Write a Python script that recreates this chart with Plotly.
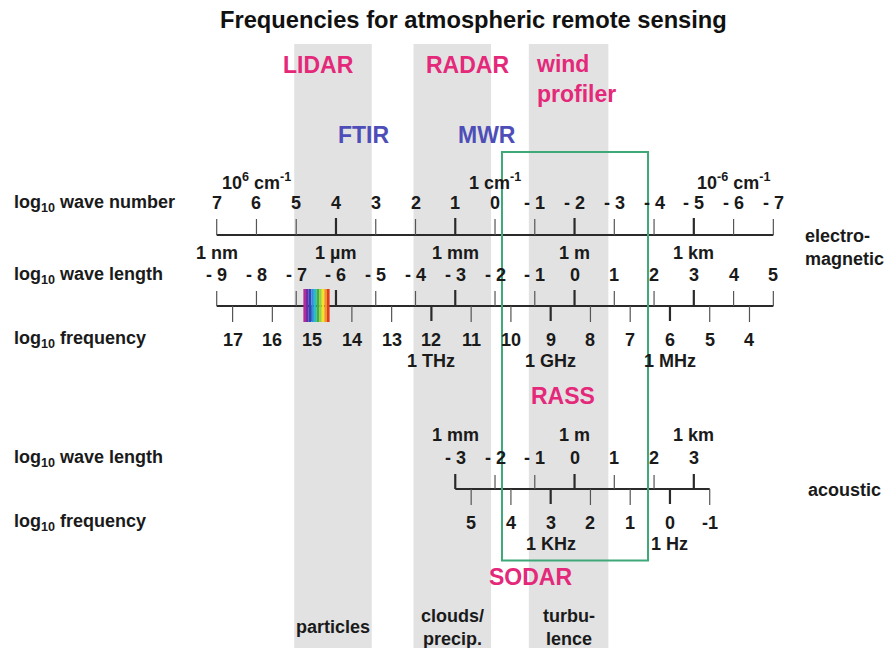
import plotly.graph_objects as go

# ---------------- data ----------------
# electromagnetic scales
wavenumber_values = [7, 6, 5, 4, 3, 2, 1, 0, -1, -2, -3, -4, -5, -6, -7]
wavenumber_labels = ["7", "6", "5", "4", "3", "2", "1", "0", "- 1", "- 2", "- 3", "- 4", "- 5", "- 6", "- 7"]
wavenumber_major = [4, 1, -2, -5]
wavenumber_units = [6, 0, -6]
wavenumber_unit_labels = ["10<sup>6</sup> cm<sup>-1</sup>", "1 cm<sup>-1</sup>", "10<sup>-6</sup> cm<sup>-1</sup>"]

em_wavelength_values = [-9, -8, -7, -6, -5, -4, -3, -2, -1, 0, 1, 2, 3, 4, 5]
em_wavelength_labels = ["- 9", "- 8", "- 7", "- 6", "- 5", "- 4", "- 3", "- 2", "- 1", "0", "1", "2", "3", "4", "5"]
em_wavelength_major = [-6, -3, 0, 3]
em_wavelength_units = [-9, -6, -3, 0, 3]
em_wavelength_unit_labels = ["1 nm", "1 µm", "1 mm", "1 m", "1 km"]

em_frequency_values = [17, 16, 15, 14, 13, 12, 11, 10, 9, 8, 7, 6, 5, 4]
em_frequency_labels = ["17", "16", "15", "14", "13", "12", "11", "10", "9", "8", "7", "6", "5", "4"]
em_frequency_major = [15, 12, 9, 6]
em_frequency_units = [12, 9, 6]
em_frequency_unit_labels = ["1 THz", "1 GHz", "1 MHz"]

# acoustic scales
ac_wavelength_values = [-3, -2, -1, 0, 1, 2, 3]
ac_wavelength_labels = ["- 3", "- 2", "- 1", "0", "1", "2", "3"]
ac_wavelength_major = [-3, 0, 3]
ac_wavelength_units = [-3, 0, 3]
ac_wavelength_unit_labels = ["1 mm", "1 m", "1 km"]

ac_frequency_values = [5, 4, 3, 2, 1, 0, -1]
ac_frequency_labels = ["5", "4", "3", "2", "1", "0", "-1"]
ac_frequency_major = [3, 0]
ac_frequency_units = [3, 0]
ac_frequency_unit_labels = ["1 KHz", "1 Hz"]

# conversions to log10 wave length [m]
WAVENUMBER_SHIFT = -2.0     # lambda = -k - 2
EM_LOG_SPEED = 8.4          # lambda = 8.4 - log f
SOUND_LOG_SPEED = 2.4       # lambda = 2.4 - log f

# application bands (log10 wave length)
band_starts = [-7.05, -4.05, -1.15]
band_ends = [-5.10, -2.10, 0.85]
band_captions = ["particles", "clouds/<br>precip.", "turbu-<br>lence"]

# green RASS/SODAR frame (log10 wave length)
frame_range = [-1.825, 1.848]

# visible spectrum (log10 wave length)
visible_range = [-6.82, -6.16]
rainbow_colors = ["#b02c9c", "#6a2ea4", "#3440bc", "#2f8fdc", "#2cbcc4",
                  "#3cb04a", "#9cd03a", "#f2e02a", "#f29424", "#e23a22"]

technique_names = ["LIDAR", "RADAR", "wind<br>profiler", "FTIR", "MWR", "RASS", "SODAR"]

# ---------------- layout constants (pixel rows) ----------------
PINK = "#e4287a"
BLUE = "#4e4eb8"
TXT = "#1a1a1a"
AX = "#2a2a2a"
GREEN = "#3fa878"
BAND = "#e2e2e2"
FONT = "Liberation Sans"
FS = 18

WN_LINE, WN_TICK, WN_LAB, WN_UNIT = 235, 219, 202.5, 181
EW_LINE, EW_TICK, EW_LAB, EW_UNIT = 306, 291, 275, 252.5
EF_TICK, EF_LAB, EF_UNIT = 322, 339.5, 361
AW_LINE, AW_TICK, AW_LAB, AW_UNIT = 489, 475, 457.5, 434.5
AF_TICK, AF_LAB, AF_UNIT = 505, 523, 544

X0, PX_PER = 216.7, 39.76  # pixel of lambda=-9 and pixels per decade
xrange_ = [-9 - X0 / PX_PER, -9 + (886 - X0) / PX_PER]

wn = lambda k: -k + WAVENUMBER_SHIFT
ef = lambda f: EM_LOG_SPEED - f
af = lambda f: SOUND_LOG_SPEED - f

fig = go.Figure()
shapes = []
annotations = []

# bands
for a, b in zip(band_starts, band_ends):
    shapes.append(dict(type="rect", xref="x", yref="y", x0=a, x1=b, y0=44, y1=648,
                       fillcolor=BAND, line=dict(width=0), layer="below"))


def tick_trace(xs, y0, y1, width, color):
    X, Y = [], []
    for x in xs:
        X += [x, x, None]
        Y += [y0, y1, None]
    fig.add_trace(go.Scatter(x=X, y=Y, mode="lines", line=dict(color=color, width=width),
                             hoverinfo="skip", showlegend=False))


def scale(values, major, conv, ytick, yline):
    minor = [conv(v) for v in values if v not in major]
    maj = [conv(v) for v in values if v in major]
    tick_trace(minor, ytick, yline, 1.2, "#555555")
    tick_trace(maj, ytick - 1, yline, 2.2, AX)


def labels(values, texts, conv, y, size=FS):
    for v, t in zip(values, texts):
        annotations.append(dict(x=conv(v), y=y, xref="x", yref="y", text=t, showarrow=False,
                                xanchor="center", yanchor="middle",
                                font=dict(family=FONT, size=size, color=TXT, weight="bold")))


ident = lambda v: v

# axis lines
def hline(xa, xb, y):
    fig.add_trace(go.Scatter(x=[xa, xb], y=[y, y], mode="lines", line=dict(color=AX, width=2),
                             hoverinfo="skip", showlegend=False))

hline(wn(wavenumber_values[0]), wn(wavenumber_values[-1]), WN_LINE)
hline(em_wavelength_values[0], em_wavelength_values[-1], EW_LINE)
hline(ac_wavelength_values[0], af(ac_frequency_values[-1]), AW_LINE)

scale(wavenumber_values, wavenumber_major, wn, WN_TICK, WN_LINE)
scale(em_wavelength_values, em_wavelength_major, ident, EW_TICK, EW_LINE)
scale(em_frequency_values, em_frequency_major, ef, EF_TICK, EW_LINE)
scale(ac_wavelength_values, ac_wavelength_major, ident, AW_TICK, AW_LINE)
scale(ac_frequency_values, ac_frequency_major, af, AF_TICK, AW_LINE)

labels(wavenumber_values, wavenumber_labels, wn, WN_LAB)
labels(wavenumber_units, wavenumber_unit_labels, wn, WN_UNIT)
labels(em_wavelength_values, em_wavelength_labels, ident, EW_LAB)
labels(em_wavelength_units, em_wavelength_unit_labels, ident, EW_UNIT)
labels(em_frequency_values, em_frequency_labels, ef, EF_LAB)
labels(em_frequency_units, em_frequency_unit_labels, ef, EF_UNIT)
labels(ac_wavelength_values, ac_wavelength_labels, ident, AW_LAB)
labels(ac_wavelength_units, ac_wavelength_unit_labels, ident, AW_UNIT)
labels(ac_frequency_values, ac_frequency_labels, af, AF_LAB)
labels(ac_frequency_units, ac_frequency_unit_labels, af, AF_UNIT)

# rainbow (visible light)
n = len(rainbow_colors)
w = (visible_range[1] - visible_range[0]) / n
for i, c in enumerate(rainbow_colors):
    shapes.append(dict(type="rect", xref="x", yref="y", x0=visible_range[0] + i * w,
                       x1=visible_range[0] + (i + 1) * w, y0=289, y1=322,
                       fillcolor=c, line=dict(width=0), layer="above"))

# green frame
shapes.append(dict(type="rect", xref="x", yref="y", x0=frame_range[0], x1=frame_range[1],
                   y0=152, y1=560.5, line=dict(color=GREEN, width=2), fillcolor="rgba(0,0,0,0)",
                   layer="above"))

# technique labels
tech_pos = {
    "LIDAR": (-6.45, 65, "center", PINK),
    "RADAR": (-2.70, 65, "center", PINK),
    "wind<br>profiler": (-1.03, 79, "left", PINK),
    "FTIR": (-5.32, 135, "center", BLUE),
    "MWR": (-2.20, 135, "center", BLUE),
    "RASS": (-0.29, 396, "center", PINK),
    "SODAR": (-1.12, 577, "center", PINK),
}
for name in technique_names:
    x, y, anch, col = tech_pos[name]
    annotations.append(dict(x=x, y=y, xref="x", yref="y", text=name, showarrow=False,
                            xanchor=anch, yanchor="middle", align="left",
                            font=dict(family=FONT, size=23, color=col, weight="bold")))

# band captions
for a, b, t in zip(band_starts, band_ends, band_captions):
    annotations.append(dict(x=(a + b) / 2, y=627, xref="x", yref="y", text=t, showarrow=False,
                            xanchor="center", yanchor="middle",
                            font=dict(family=FONT, size=FS, color=TXT, weight="bold")))

# row labels
row_labels = [("log<sub>10</sub> wave number", 203), ("log<sub>10</sub> wave length", 275),
              ("log<sub>10</sub> frequency", 339), ("log<sub>10</sub> wave length", 458),
              ("log<sub>10</sub> frequency", 522)]
for t, y in row_labels:
    annotations.append(dict(x=12 / 886, y=y, xref="paper", yref="y", text=t, showarrow=False,
                            xanchor="left", yanchor="middle",
                            font=dict(family=FONT, size=FS, color=TXT, weight="bold")))

for t, x, y in [("electro-<br>magnetic", 803, 247), ("acoustic", 806, 490)]:
    annotations.append(dict(x=x / 886, y=y, xref="paper", yref="y", text=t, showarrow=False,
                            xanchor="left", yanchor="middle", align="left",
                            font=dict(family=FONT, size=FS, color=TXT, weight="bold")))

# title
annotations.append(dict(x=473 / 886, y=20, xref="paper", yref="y",
                        text="Frequencies for atmospheric remote sensing", showarrow=False,
                        xanchor="center", yanchor="middle",
                        font=dict(family=FONT, size=23.7, color="#111111", weight="bold")))

fig.update_layout(
    width=886, height=648, margin=dict(l=0, r=0, t=0, b=0),
    paper_bgcolor="white", plot_bgcolor="white",
    xaxis=dict(range=xrange_, visible=False, fixedrange=True),
    yaxis=dict(range=[648, 0], visible=False, fixedrange=True),
    shapes=shapes, annotations=annotations, showlegend=False,
)

fig.write_html("out.html")
